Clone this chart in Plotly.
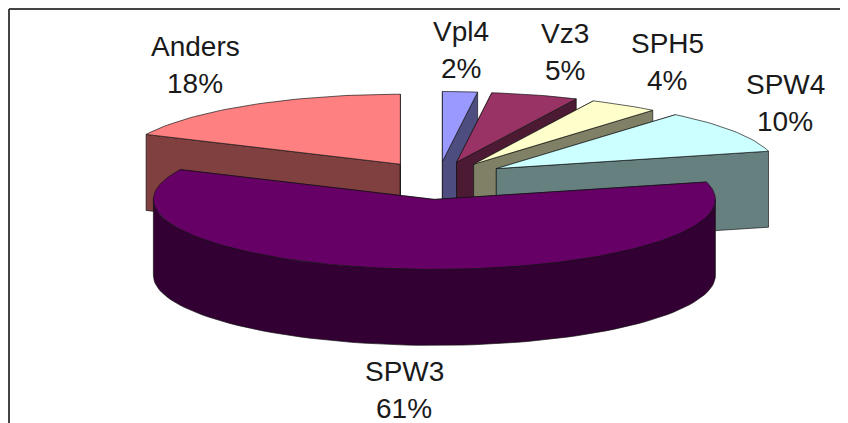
import numpy as np
import plotly.graph_objects as go

categories = ["Vpl4", "Vz3", "SPH5", "SPW4", "SPW3", "Anders"]
shares = [2, 5, 4, 10, 61, 18]
top_colors = ["#9999FF", "#993366", "#FFFFCC", "#CCFFFF", "#660066", "#FF8080"]
side_colors = ["#4D4D80", "#4D1A33", "#808066", "#668080", "#330033", "#804040"]
draw_order = ["Vpl4", "Vz3", "SPH5", "SPW4", "Anders", "SPW3"]

W, H, PAGE_MARGIN = 848, 423, 8
CX, CY, RX, RY, DEPTH, EXPLODE = 438, 179, 281, 70, 76, 0.25
EDGE = "rgba(20,20,20,0.85)"

# Small placement corrections of individual exploded slices, in pixels.
nudge = {"SPW3": (3, 3), "SPH5": (-2, 0), "SPW4": (-1, -1), "Vz3": (-1, 0)}

label_pos = {
    "Vpl4": (461, 31), "Vz3": (565, 33), "SPH5": (667, 43),
    "SPW4": (785, 84), "SPW3": (404, 371), "Anders": (195, 46),
}

fig = go.Figure()


def poly(xs, ys, color):
    fig.add_trace(go.Scatter(
        x=list(xs), y=list(ys), mode="lines", fill="toself", fillcolor=color,
        line=dict(color=EDGE, width=0.8), hoverinfo="skip", showlegend=False,
    ))


def ring(t, ax, ay):
    return ax + RX * np.sin(t), ay - RY * np.cos(t)


stops = np.cumsum([0] + shares) / 100 * 2 * np.pi
for name in draw_order:
    i = categories.index(name)
    t0, t1 = stops[i], stops[i + 1]
    mid = (t0 + t1) / 2
    nx, ny = nudge.get(name, (0, 0))
    ax = CX + EXPLODE * RX * np.sin(mid) + nx
    ay = CY - EXPLODE * RY * np.cos(mid) + ny
    for t in (t0, t1):
        ex, ey = ring(t, ax, ay)
        poly([ax, ex, ex, ax, ax], [ay, ey, ey + DEPTH, ay + DEPTH, ay], side_colors[i])
    lo, hi = max(t0, np.pi / 2), min(t1, 3 * np.pi / 2)
    if hi > lo:
        arc = np.linspace(lo, hi, 80)
        px, py = ring(arc, ax, ay)
        poly(np.r_[px, px[::-1], px[0]], np.r_[py, py[::-1] + DEPTH, py[0]], side_colors[i])
    arc = np.linspace(t0, t1, max(6, int((t1 - t0) * 40)))
    px, py = ring(arc, ax, ay)
    poly(np.r_[ax, px, ax], np.r_[ay, py, ay], top_colors[i])

for name, share in zip(categories, shares):
    lx, ly = label_pos[name]
    for text, yy in ((name, ly), (f"{share}%", ly + 37)):
        fig.add_annotation(x=lx, y=yy, text=text, showarrow=False, xanchor="center", yanchor="middle",
                           font=dict(family="Liberation Sans", size=28, color="#1a1a1a"))

frame = dict(type="line", xref="x", yref="y", line=dict(color="#444444", width=2))
fig.add_shape(x0=9, y0=9, x1=9, y1=H, **frame)
fig.add_shape(x0=9, y0=9, x1=W, y1=9, **frame)

# The page keeps the browser's 8 px body margin, so the figure is sized to the
# remainder and its axes run over the window's own pixel coordinates.
fig.update_layout(
    width=W - PAGE_MARGIN, height=H - PAGE_MARGIN, margin=dict(l=0, r=0, t=0, b=0),
    paper_bgcolor="white", plot_bgcolor="white", showlegend=False,
    xaxis=dict(range=[PAGE_MARGIN, W], visible=False, fixedrange=True),
    yaxis=dict(range=[H, PAGE_MARGIN], visible=False, fixedrange=True),
)
fig.write_html("out.html", config={"displayModeBar": False})
